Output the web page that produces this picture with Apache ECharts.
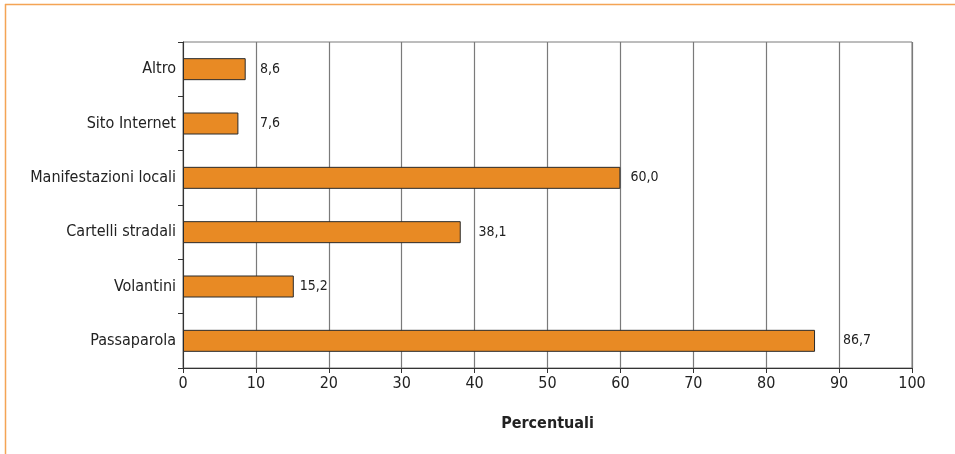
<!DOCTYPE html>
<html><head><meta charset="utf-8">
<script src="https://cdn.jsdelivr.net/npm/echarts@6/dist/echarts.min.js"></script>
<style>html,body{margin:0;padding:0;background:#fff}#c{width:955px;height:454px}</style>
</head><body><div id="c"></div>
<script>
const categories = ['Altro', 'Sito Internet', 'Manifestazioni locali', 'Cartelli stradali', 'Volantini', 'Passaparola'];
const values = [8.6, 7.6, 60.0, 38.1, 15.2, 86.7];
const xTicks = [0, 10, 20, 30, 40, 50, 60, 70, 80, 90, 100];
const axisTitle = 'Percentuali';

const FONT = '"DejaVu Sans Condensed", "DejaVu Sans", sans-serif';
const GRID_L = 183, GRID_R = 43, GRID_W = 955 - GRID_L - GRID_R;
const ppu = GRID_W / 100;

// keep each value label clear of the next gridline
function labelOffset(v) {
  const next = Math.ceil(v / 10 - 1e-9) * 10;
  const gap = (next - v) * ppu;
  if (gap > 0.5 && gap < 30) return gap + 4;
  if (gap <= 0.5) return 10;
  return 6;
}

const chart = echarts.init(document.getElementById('c'), null, {renderer: 'canvas'});
chart.setOption({
  animation: false,
  backgroundColor: '#fff',
  graphic: [
    {type: 'line', shape: {x1: 5, y1: 4.5, x2: 955, y2: 4.5}, style: {stroke: '#F4A455', lineWidth: 1.5}},
    {type: 'line', shape: {x1: 5.5, y1: 4, x2: 5.5, y2: 454}, style: {stroke: '#F4A455', lineWidth: 1.5}}
  ],
  grid: {left: GRID_L, right: GRID_R, top: 42, bottom: 86, show: true, borderColor: '#7a7a7a', borderWidth: 1, containLabel: false},
  xAxis: {
    type: 'value', min: 0, max: 100, interval: 10,
    axisLine: {show: true, lineStyle: {color: '#333', width: 1}},
    axisTick: {show: true, length: 5, lineStyle: {color: '#333'}},
    splitLine: {show: true, lineStyle: {color: '#7a7a7a', width: 1.2}},
    axisLabel: {color: '#222', fontFamily: FONT, fontSize: 16, margin: 8,
      formatter: v => xTicks.includes(v) ? String(v) : ''},
    name: axisTitle, nameLocation: 'middle', nameGap: 48,
    nameTextStyle: {color: '#222', fontFamily: FONT, fontSize: 16, fontWeight: 'bold'}
  },
  yAxis: {
    type: 'category', data: categories, inverse: true,
    axisLine: {show: true, lineStyle: {color: '#333', width: 1}},
    axisTick: {show: true, length: 5, lineStyle: {color: '#333'}},
    axisLabel: {color: '#222', fontFamily: FONT, fontSize: 16, margin: 7}
  },
  series: [{
    type: 'bar',
    data: values.map(v => ({value: v, label: {offset: [labelOffset(v) - 6, 0]}})),
    barWidth: 22,
    itemStyle: {color: '#E88A24', borderColor: '#2a2a2a', borderWidth: 1},
    label: {show: true, position: 'right', distance: 6, color: '#222', fontFamily: FONT, fontSize: 14,
      formatter: p => p.value.toFixed(1).replace('.', ',')}
  }]
});
</script></body></html>
